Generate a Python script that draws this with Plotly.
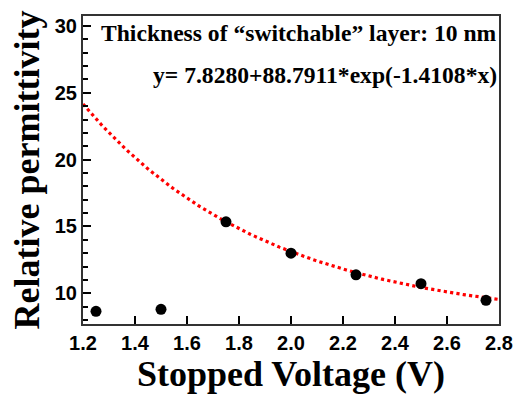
import numpy as np
import plotly.graph_objects as go

voltage = [1.25, 1.5, 1.75, 2.0, 2.25, 2.5, 2.75]
permittivity = [8.65, 8.8, 15.35, 13.0, 11.38, 10.72, 9.47]

fit_a, fit_b, fit_c = 7.8280, 88.7911, 1.4108
fit_x = np.linspace(1.2, 2.8, 200)
fit_y = fit_a + fit_b * np.exp(-fit_c * fit_x)

title_font = dict(family="Liberation Serif", size=36, color="black")
tick_font = dict(family="Liberation Sans", size=20, color="black", weight="bold")

fig = go.Figure()
fig.add_trace(go.Scatter(x=fit_x, y=fit_y, mode="lines",
                         line=dict(color="#ff0000", width=3.2, dash="dot"),
                         showlegend=False))
fig.add_trace(go.Scatter(x=voltage, y=permittivity, mode="markers",
                         marker=dict(color="black", size=11),
                         showlegend=False))

fig.add_annotation(x=1.0, y=1 - (33 - 16) / 308.0, xref="paper", yref="paper",
                   xanchor="right", yanchor="middle", showarrow=False,
                   text="<b>Thickness of \u201cswitchable\u201d layer: 10 nm</b>",
                   font=dict(family="Liberation Serif", size=23.6, color="black"))
fig.add_annotation(x=1.0, y=1 - (75 - 16) / 308.0, xref="paper", yref="paper",
                   xanchor="right", yanchor="middle", showarrow=False,
                   text="<b>y= 7.8280+88.7911*exp(-1.4108*x)</b>",
                   font=dict(family="Liberation Serif", size=23.6, color="black"))

fig.update_layout(
    width=525, height=397,
    margin=dict(l=83, r=17, t=16, b=73),
    paper_bgcolor="white", plot_bgcolor="white",
    xaxis=dict(range=[1.2, 2.8], dtick=0.2, tickformat=".1f",
               showgrid=False, zeroline=False,
               showline=True, linecolor="#333", linewidth=2, mirror=True,
               ticks="inside", ticklen=8, tickwidth=2, tickcolor="black",
               tickfont=tick_font,
               title=dict(text="<b>Stopped Voltage (V)</b>", font=title_font, standoff=2)),
    yaxis=dict(range=[7.7, 30.75], tickvals=[10, 15, 20, 25, 30],
               showgrid=False, zeroline=False,
               showline=True, linecolor="#333", linewidth=2, mirror=True,
               ticks="inside", ticklen=8, tickwidth=2, tickcolor="black",
               tickfont=tick_font,
               minor=dict(tickvals=[8, 9, 11, 12, 13, 14, 16, 17, 18, 19, 21, 22, 23, 24, 26, 27, 28, 29],
                          ticks="inside", ticklen=5, tickwidth=1.5, tickcolor="black"),
               title=dict(text="<b>Relative permittivity</b>", font=title_font, standoff=4)),
)

fig.write_html("out.html")
